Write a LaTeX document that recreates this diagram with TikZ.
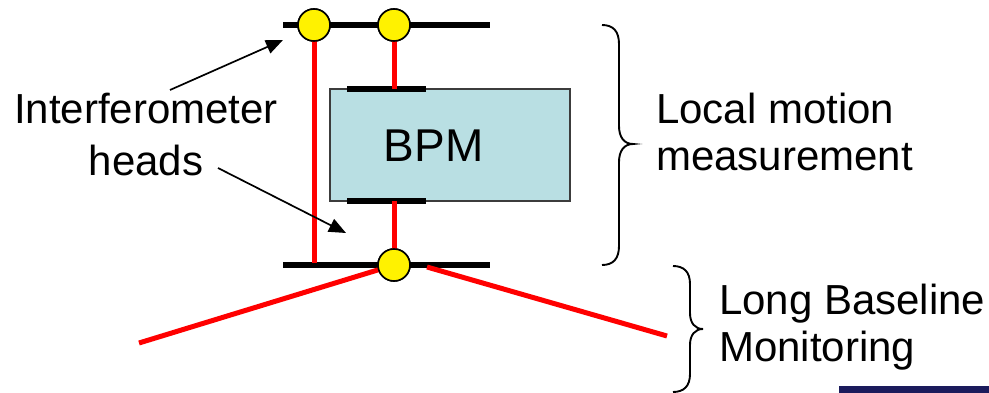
\documentclass[tikz,border=0pt]{standalone}
\usepackage{fontspec}
\setmainfont{Liberation Sans}
\usetikzlibrary{arrows.meta}
\definecolor{boxfill}{RGB}{185,223,227}
\definecolor{navybar}{RGB}{27,27,92}
\definecolor{boxedge}{RGB}{60,60,60}
\begin{document}
\begin{tikzpicture}[x=1pt,y=-1pt,
  redline/.style={draw=red,line width=5pt},
  blackbar/.style={draw=black,line width=6pt},
  head/.style={circle,draw=black,line width=1.6pt,fill=yellow,minimum size=32pt,inner sep=0pt},
  pointer/.style={draw=black,line width=1.7pt,-{Triangle[length=17pt,width=14pt]}},
  bracestyle/.style={draw=black,line width=1.9pt},
  lbl/.style={font=\fontsize{42}{47}\selectfont,inner sep=0pt,align=left},
]
\useasboundingbox (0,0) rectangle (989,393);

% coordinates
\coordinate (L1a) at (283,25);
\coordinate (L1b) at (490,25);
\coordinate (L2a) at (283,265);
\coordinate (L2b) at (490,265);
\coordinate (bl1) at (314,263);
\coordinate (tb1) at (347,89);
\coordinate (tb2) at (426,89);
\coordinate (bb1) at (347,201);
\coordinate (bb2) at (426,201);
\coordinate (ta) at (394,89);
\coordinate (ba) at (394,201);
\coordinate (lbA) at (139,343);
\coordinate (rbA) at (427,267);
\coordinate (rbB) at (667,336);
\coordinate (a1s) at (170,90);
\coordinate (a1e) at (283,40);
\coordinate (a2s) at (218,168);
\coordinate (a2e) at (346,233);

% BPM box
\node[draw=boxedge,fill=boxfill,line width=1.2pt,minimum width=240pt,minimum height=112pt,inner sep=0pt] (bpm) at (450,145) {};
\node[font=\fontsize{46}{50}\selectfont,inner sep=0pt,anchor=base] (bpmtxt) at (433.5,162) {BPM};

% heads (placed first as coordinates for line ends)
\node[head] (c1) at (314,25) {};
\node[head] (c2) at (394,25) {};
\node[head] (c3) at (394,265) {};

% black lines
\draw[blackbar] (L1a) -- (L1b);
\draw[blackbar] (L2a) -- (L2b);
\draw[blackbar] (tb1) -- (tb2);
\draw[blackbar] (bb1) -- (bb2);

% red lines
\draw[redline] (c1.center) -- (bl1);
\draw[redline] (c2.center) -- (ta);
\draw[redline] (ba) -- (c3.center);
\draw[redline] (lbA) -- (c3.center);
\draw[redline] (rbA) -- (rbB);

% heads on top
\node[head] at (c1) {};
\node[head] at (c2) {};
\node[head] at (c3) {};

% labels
\node[lbl,align=center,font=\fontsize{42}{52}\selectfont,anchor=north] (ih) at (146,93) {Interferometer\\heads};
\node[lbl,anchor=north west] (lm) at (656,93) {Local motion\\measurement};
\node[lbl,anchor=north west] (lb) at (719,284) {Long Baseline\\Monitoring};

% pointers
\draw[pointer] (a1s) -- (a1e);
\draw[pointer] (a2s) -- (a2e);

% braces
\draw[bracestyle] (602,25) .. controls (613,25) and (619,31) .. (619,44) -- (619,126)
  .. controls (619,137) and (624,144) .. (633,144)
  .. controls (624,144) and (619,151) .. (619,162) -- (619,246)
  .. controls (619,259) and (613,265) .. (602,265);
\draw[bracestyle] (673,266) .. controls (684,266) and (690,272) .. (690,284) -- (690,313)
  .. controls (690,323) and (695,329) .. (703,329)
  .. controls (695,329) and (690,335) .. (690,345) -- (690,374)
  .. controls (690,386) and (684,392) .. (673,392);

% navy bar
\fill[navybar] (839,386) rectangle (989,393);
\end{tikzpicture}
\end{document}
